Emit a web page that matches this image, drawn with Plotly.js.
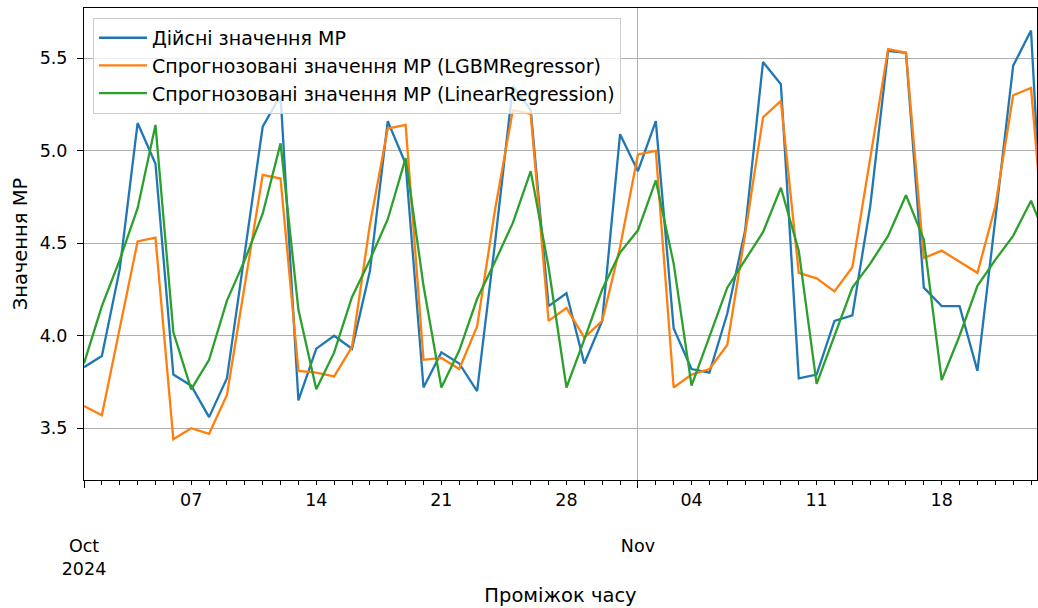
<!DOCTYPE html>
<html>
<head>
<meta charset="utf-8">
<script src="https://cdn.plot.ly/plotly-3.0.1.min.js"></script>
<style>html,body{margin:0;padding:0;background:#fff;}#chart{width:1038px;height:608px;}</style>
</head>
<body>
<div id="chart"></div>
<script>
const dates = [
"2024-10-01","2024-10-02","2024-10-03","2024-10-04","2024-10-05","2024-10-06","2024-10-07",
"2024-10-08","2024-10-09","2024-10-10","2024-10-11","2024-10-12","2024-10-13","2024-10-14",
"2024-10-15","2024-10-16","2024-10-17","2024-10-18","2024-10-19","2024-10-20","2024-10-21",
"2024-10-22","2024-10-23","2024-10-24","2024-10-25","2024-10-26","2024-10-27","2024-10-28",
"2024-10-29","2024-10-30","2024-10-31","2024-11-01","2024-11-02","2024-11-03","2024-11-04",
"2024-11-05","2024-11-06","2024-11-07","2024-11-08","2024-11-09","2024-11-10","2024-11-11",
"2024-11-12","2024-11-13","2024-11-14","2024-11-15","2024-11-16","2024-11-17","2024-11-18",
"2024-11-19","2024-11-20","2024-11-21","2024-11-22","2024-11-23","2024-11-24"];

const actual = [3.83,3.89,4.36,5.15,4.93,3.79,3.73,3.56,3.77,4.45,5.13,5.30,3.65,3.93,4.00,3.93,4.35,5.16,4.93,3.72,
3.91,3.85,3.70,4.50,5.35,5.22,4.16,4.23,3.85,4.08,5.09,4.89,5.16,4.04,3.82,3.80,4.12,4.57,5.48,5.36,
3.77,3.79,4.08,4.11,4.70,5.54,5.53,4.26,4.16,4.16,3.81,4.63,5.46,5.65,3.85];

const lgbm = [3.62,3.57,4.04,4.51,4.53,3.44,3.50,3.47,3.68,4.28,4.87,4.85,3.81,3.80,3.78,3.94,4.60,5.12,5.14,3.87,
3.88,3.82,4.05,4.68,5.22,5.20,4.08,4.15,3.99,4.08,4.48,4.98,5.00,3.72,3.79,3.82,3.95,4.55,5.18,5.27,
4.34,4.31,4.24,4.37,4.95,5.55,5.53,4.42,4.46,4.40,4.34,4.70,5.30,5.34,4.20];

const linreg = [3.85,4.16,4.41,4.69,5.14,4.02,3.71,3.87,4.19,4.41,4.66,5.04,4.14,3.71,3.91,4.21,4.41,4.63,4.96,4.27,
3.72,3.92,4.20,4.40,4.61,4.89,4.37,3.72,3.98,4.25,4.45,4.57,4.84,4.39,3.73,3.99,4.26,4.41,4.56,4.80,
4.46,3.74,4.00,4.26,4.39,4.54,4.76,4.52,3.76,4.00,4.27,4.41,4.54,4.73,4.49];

const seriesNames = [
  "Дійсні значення МР",
  "Спрогнозовані значення МР (LGBMRegressor)",
  "Спрогнозовані значення МР (LinearRegression)"
];
const seriesColors = ["#1f77b4", "#ff7f0e", "#2ca02c"];

const weekTickVals = ["2024-10-07","2024-10-14","2024-10-21","2024-10-28","2024-11-04","2024-11-11","2024-11-18"];
const weekTickText = ["07","14","21","28","04","11","18"];
const monthTickVals = ["2024-10-01","2024-11-01"];
const monthTickText = ["Oct<br>2024","Nov"];

const yTickVals = [3.5, 4.0, 4.5, 5.0, 5.5];
const yTickText = ["3.5","4.0","4.5","5.0","5.5"];

const xRange = ["2024-10-01 00:00", "2024-11-23 08:00"];
const yRange = [3.22, 5.772];

const font = "DejaVu Sans, sans-serif";
const tickSize = 17.5;
const titleSize = 19.5;
const legendSize = 19;

const ys = [actual, lgbm, linreg];
const traces = ys.map((y, i) => ({
  x: dates, y: y, type: "scatter", mode: "lines", name: seriesNames[i],
  line: {color: seriesColors[i], width: 2.3}, xaxis: "x", yaxis: "y"
}));

const layout = {
  width: 1038, height: 608,
  margin: {l: 84, r: 1, t: 8, b: 128, pad: 0},
  paper_bgcolor: "#ffffff", plot_bgcolor: "#ffffff",
  font: {family: font, color: "#000000", size: tickSize},
  showlegend: true,
  legend: {
    x: 0.0094, y: 0.979, xanchor: "left", yanchor: "top",
    bgcolor: "rgba(255,255,255,0.8)", bordercolor: "#cccccc", borderwidth: 1,
    itemwidth: 48,
    font: {family: font, size: legendSize, color: "#000000"}
  },
  xaxis: {
    type: "date", range: xRange, autorange: false,
    tickmode: "array", tickvals: weekTickVals, ticktext: weekTickText,
    ticks: "outside", ticklen: 4, tickwidth: 1, tickcolor: "#000",
    tickfont: {family: font, size: tickSize, color: "#000"},
    showgrid: false, zeroline: false,
    showline: true, linecolor: "#000", linewidth: 1, mirror: true,
    minor: {ticks: "outside", ticklen: 4, tickwidth: 1, tickcolor: "#000", dtick: 86400000, tick0: "2024-10-01", showgrid: false},
    title: {text: "Проміжок часу", font: {family: font, size: titleSize, color: "#000"}, standoff: 79},
    automargin: false
  },
  xaxis2: {
    type: "date", range: xRange, autorange: false, overlaying: "x", anchor: "y", side: "bottom",
    tickmode: "array", tickvals: monthTickVals, ticktext: monthTickText,
    ticks: "outside", ticklen: 7, tickwidth: 1, tickcolor: "#000",
    ticklabelstandoff: 43,
    tickfont: {family: font, size: tickSize, color: "#000"},
    showgrid: true, gridcolor: "#b0b0b0", gridwidth: 1,
    zeroline: false, showline: false, automargin: false
  },
  yaxis: {
    range: yRange, autorange: false,
    tickmode: "array", tickvals: yTickVals, ticktext: yTickText,
    ticks: "outside", ticklen: 6, tickwidth: 1, tickcolor: "#000",
    ticklabelstandoff: 6,
    tickfont: {family: font, size: tickSize, color: "#000"},
    showgrid: true, gridcolor: "#b0b0b0", gridwidth: 1,
    zeroline: false, showline: true, linecolor: "#000", linewidth: 1, mirror: true,
    title: {text: "Значення МР", font: {family: font, size: titleSize, color: "#000"}, standoff: 6},
    automargin: false
  }
};

const allTraces = traces.concat([{x: [], y: [], type: "scatter", mode: "lines", xaxis: "x2", yaxis: "y", showlegend: false, hoverinfo: "skip"}]);
Plotly.newPlot("chart", allTraces, layout, {staticPlot: true, displayModeBar: false});
</script>
</body>
</html>
